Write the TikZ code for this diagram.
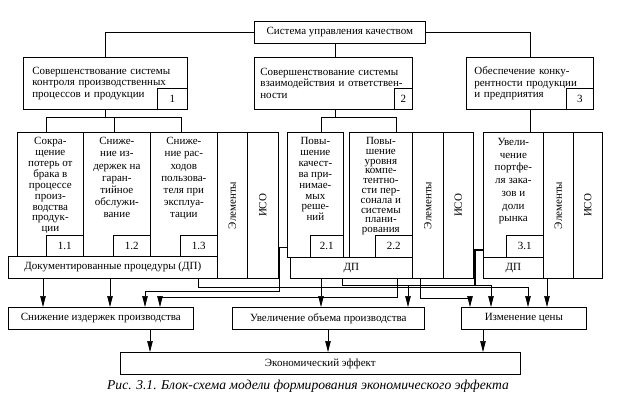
\documentclass[tikz,border=0pt]{standalone}
\usepackage{fontspec}
\setmainfont{Liberation Serif}
\usetikzlibrary{arrows.meta,positioning}

\begin{document}
\begin{tikzpicture}[
  x=1pt, y=-1pt,
  font=\fontsize{11}{11.7}\selectfont,
  box/.style={draw, anchor=north west, align=left, inner xsep=9pt, inner ysep=0pt},
  num/.style={draw, anchor=south east, minimum height=21pt, inner sep=0pt},
  col/.style={draw, anchor=north west, minimum height=124pt, inner sep=0pt},
  coltxt/.style={align=center, inner sep=0pt},
  vcol/.style={draw, anchor=north west, minimum width=30pt, minimum height=146pt, inner sep=0pt},
  res/.style={draw, anchor=north west, minimum height=22pt, inner sep=0pt},
  arr/.style={-{Triangle[length=11pt, width=5.5pt]}, line width=0.7pt},
  ln/.style={line width=0.7pt},
  every node/.append style={line width=0.7pt}
]
\useasboundingbox (0,0) rectangle (624,400);

% top level
\node[res, minimum width=171pt] (sys) at (254,21) {Система управления качеством};
\node[box, minimum width=164pt, minimum height=52pt, text width=146pt] (b1) at (23,57)
  {Совершенствование системы\\контроля производственных\\процессов и продукции};
\node[box, minimum width=158pt, minimum height=52pt, inner xsep=6pt, text width=146pt] (b2) at (254,57)
  {Совершенствование системы\\взаимодействия и ответствен-\\ности};
\node[box, minimum width=127pt, minimum height=52pt, inner xsep=8pt, text width=111pt] (b3) at (466,57)
  {Обеспечение конку-\\рентности продукции\\и предприятия};
\node[num, minimum width=30pt] (n1) at (b1.south east) {1};
\node[num, minimum width=18pt] (n2) at (b2.south east) {2};
\node[num, minimum width=27pt] (n3) at (b3.south east) {3};

% group 1
\node[col, minimum width=66pt] (c11) at (17,132) {};
\node[col, minimum width=67pt] (c12) at (83,132) {};
\node[col, minimum width=67pt] (c13) at (150,132) {};
\node[coltxt, below=5pt of c11.north, font=\fontsize{11}{10.9}\selectfont]
  {Сокра-\\щение\\потерь от\\брака в\\процессе\\произ-\\водства\\продук-\\ции};
\node[coltxt, below=5pt of c12.north, font=\fontsize{11}{12.2}\selectfont]
  {Сниже-\\ние из-\\держек на\\гаран-\\тийное\\обслужи-\\вание};
\node[coltxt, below=5pt of c13.north, font=\fontsize{11}{12.2}\selectfont]
  {Сниже-\\ние рас-\\ходов\\пользова-\\теля при\\эксплуа-\\тации};
\node[num, minimum width=37pt] (n11) at (c11.south east) {1.1};
\node[num, minimum width=37pt] (n12) at (c12.south east) {1.2};
\node[num, minimum width=37pt] (n13) at (c13.south east) {1.3};
\node[vcol] (e1) at (217,132) {};
\node[vcol, minimum width=31pt] (i1) at (247,132) {};
\node[rotate=90] at (e1.center) {Элементы};
\node[rotate=90] at (i1.center) {ИСО};
\node[res, minimum width=209pt] (dp1) at (8,256) {Документированные процедуры (ДП)};

% group 2
\node[col, minimum width=56pt, minimum height=125pt] (c21) at (287,132) {};
\node[col, minimum width=63pt, minimum height=125pt] (c22) at (349,132) {};
\node[coltxt, below=5pt of c21.north, font=\fontsize{11}{10.9}\selectfont]
  {Повы-\\шение\\качест-\\ва при-\\нимае-\\мых\\реше-\\ний};
\node[coltxt, below=5pt of c22.north, font=\fontsize{11}{9.8}\selectfont]
  {Повы-\\шение\\уровня\\компе-\\тентно-\\сти пер-\\сонала и\\системы\\плани-\\рования};
\node[num, minimum width=33pt, minimum height=22pt] (n21) at (c21.south east) {2.1};
\node[num, minimum width=37pt, minimum height=22pt] (n22) at (c22.south east) {2.2};
\node[vcol, minimum width=31pt] (e2) at (412,132) {};
\node[vcol] (i2) at (443,132) {};
\node[rotate=90] at (e2.center) {Элементы};
\node[rotate=90] at (i2.center) {ИСО};
\node[res, minimum width=122pt, minimum height=21pt] (dp2) at (290,257) {ДП};

% group 3
\node[col, minimum width=60pt, minimum height=125pt] (c31) at (483,132) {};
\node[coltxt, below=6pt of c31.north, font=\fontsize{11}{12.7}\selectfont]
  {Увели-\\чение\\портфе-\\ля зака-\\зов и\\доли\\рынка};
\node[num, minimum width=37pt, minimum height=22pt] (n31) at (c31.south east) {3.1};
\node[vcol] (e3) at (543,132) {};
\node[vcol, minimum width=29pt] (i3) at (573,132) {};
\node[rotate=90] at (e3.center) {Элементы};
\node[rotate=90] at (i3.center) {ИСО};
\node[res, minimum width=60pt, minimum height=21pt] (dp3) at (483,257) {ДП};

% results
\node[res, minimum width=185pt] (t1) at (8,307) {Снижение издержек производства};
\node[res, minimum width=192pt] (t2) at (232,307) {Увеличение объема производства};
\node[res, minimum width=125pt] (t3) at (461,307) {Изменение цены};
\node[res, minimum width=400pt] (eff) at (120,352) {Экономический эффект};
\node[font=\fontsize{13.6}{15}\selectfont\itshape] (cap) at (308,386)
  {Рис. 3.1. Блок-схема модели формирования экономического эффекта};

% tree lines
\draw[ln] (sys.west) -| (b1.north);
\draw[ln] (sys.east) -| (b3.north);
\draw[ln] ([xshift=-4.5pt]sys.south) -- ([xshift=-4.5pt]sys.south |- b2.north);
\draw[ln] (b1.south) -- ++(0,8) -| ([xshift=-4pt]c11.north);
\draw[ln] (b1.south) -- ++(0,8) -| ([xshift=-3pt]c13.north);
\draw[ln] ([xshift=-3pt]c12.north) -- ++(0,-15);
\draw[ln] ([xshift=2pt]b2.south) -- ++(0,8) -| ([xshift=6pt]c21.north);
\draw[ln] ([xshift=2pt]b2.south) -- ++(0,8) -| ([xshift=15pt]c22.north);
\draw[ln] (b3.south) -- (b3.south |- c31.north);

% into results
\draw[arr] ([xshift=35pt]dp1.south west) -- ([xshift=35pt]t1.north west);
\draw[arr] ([xshift=102pt]dp1.south west) -- ([xshift=102pt]t1.north west);
\draw[ln] ([yshift=10pt]c21.south west) -- ++(-8,0);
\draw[arr] ([yshift=10pt]c21.south west) ++(-8,0) -- ++(0,44) -| ([xshift=137pt]t1.north west);
\draw[arr] ([xshift=107pt]dp2.south west) -- ++(0,19) -| ([xshift=152pt]t1.north west);
\draw[arr] ([xshift=190pt]dp1.south west) -- ++(0,9) -| ([xshift=67pt]t3.north west);
\draw[arr] ([xshift=31pt]dp2.south west) -- ([xshift=89pt]t2.north west);
\draw[arr] ([xshift=52pt]dp2.south west) -- ++(0,7) -| ([xshift=30pt]t3.north west);
\draw[line width=1.6pt] ([yshift=8pt]c31.south west) -- ++(-8,0) -- ++(0,36);
\draw[arr] ([yshift=8pt]c31.south west) ++(-8,36) -| ([xshift=176pt]t2.north west);
\draw[arr] ([xshift=8pt]e2.south west) -- ++(0,20) -| ([xshift=9pt]t3.north west);
\draw[arr] ([xshift=64pt]dp3.south west) -- ([xshift=86pt]t3.north west);

\draw[arr] ([xshift=142pt]t1.south west) -- ([xshift=30pt]eff.north west);
\draw[arr] ([xshift=96pt]t2.south west) -- ([xshift=208pt]eff.north west);
\draw[arr] ([xshift=22pt]t3.south west) -- ([xshift=363pt]eff.north west);
\end{tikzpicture}
\end{document}
